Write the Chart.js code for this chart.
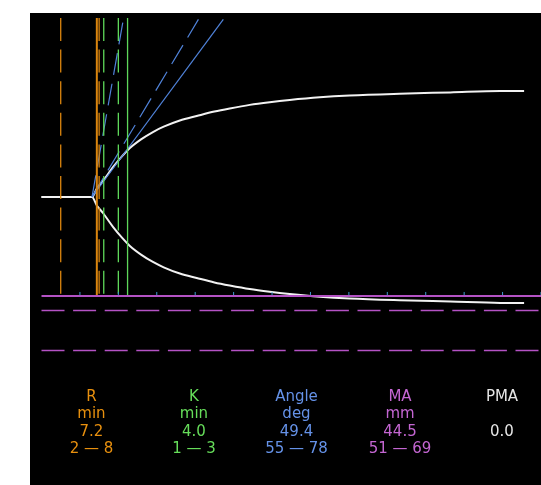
<!DOCTYPE html>
<html>
<head>
<meta charset="utf-8">
<script src="https://cdn.jsdelivr.net/npm/chart.js@4"></script>
<style>
  body { margin: 0; background: #fff; }
  #panel { position: absolute; left: 30px; top: 13px; width: 511px; height: 472px; background: #000; }
  #chartCanvas { position: absolute; left: 0; top: 0; }
  .col { position: absolute; top: 375px; width: 100px; text-align: center;
         font-family: "DejaVu Sans", sans-serif; font-size: 15px; line-height: 17.4px; white-space: pre; }
</style>
</head>
<body>
<div id="panel">
  <canvas id="chartCanvas" width="511" height="472"></canvas>
</div>
<script>
// trace: time (min) and half amplitude (mm)
var timeMin     = [0, 6.57, 7.2, 8.0, 9.3, 10.5, 11.5, 13.0, 14.5, 15.9, 18.0, 20.2, 22.5, 24.5, 27.1, 29.7, 32.3, 36.2, 40.1, 46.6, 53.2, 59.7, 62.8];
var amplitudeMm = [0, 0,    1.9, 3.6, 6.7, 9.2,  11.0, 13.0, 14.6, 15.8, 17.2, 18.2, 19.2, 19.9, 20.7, 21.3, 21.8, 22.4, 22.8, 23.2, 23.5, 23.8, 23.8];

// marker lines
var rValue = 7.2;
var rRangeLines = [2.5, 7.5];
var kEnd = 11.2;
var kRangeLines = [8.1, 10.0];
var angleStart = {x: 6.57, y: 0};
var angleActualEnd = {x: 23.66, y: 39.9};
var angleRangeEnds = [{x: 20.42, y: 39.9}, {x: 10.65, y: 39.9}];
var maHalf = -22.25;
var maRangeHalf = [-25.5, -34.5];
var timeTicks = [5, 10, 15, 20, 25, 30, 35, 40, 45, 50, 55, 60, 65];

// result table
var paramNames  = ['R', 'K', 'Angle', 'MA', 'PMA'];
var paramUnits  = ['min', 'min', 'deg', 'mm', ''];
var paramValues = ['7.2', '4.0', '49.4', '44.5', '0.0'];
var paramRanges = ['2 \u2014 8', '1 \u2014 3', '55 \u2014 78', '51 \u2014 69', ''];
var paramColors = ['#E8900E', '#66DD5A', '#6592E8', '#C466D2', '#E6E6E6'];

var xMax = 65, yMin = -36, yMax = 40.22;
var orange = '#DA850E', green = '#5ED85A', blue = '#5083DA', magenta = '#B452C4';

function line(points, color, width, dash) {
    return {
        data: points,
        borderColor: color,
        borderWidth: width,
        borderDash: dash || [],
        pointRadius: 0,
        fill: false,
        clip: false
    };
}

function vline(x, color, width, dash) {
    return line([{x: x, y: yMax}, {x: x, y: maHalf}], color, width, dash);
}

function hline(y, color, width, dash) {
    return line([{x: 0, y: y}, {x: xMax, y: y}], color, width, dash);
}

var dash = [23, 8.6];
var datasets = [];

// tick marks on the MA line
datasets.push({
    type: 'scatter',
    data: timeTicks.map(t => ({x: t, y: maHalf + 0.55})),
    pointStyle: 'line',
    rotation: 90,
    radius: 1.6,
    borderColor: '#3f9ad0',
    borderWidth: 1,
    clip: false
});

datasets.push(hline(maHalf, magenta, 2));
maRangeHalf.forEach(y => datasets.push(hline(y, magenta, 1.5, dash)));

rRangeLines.forEach(x => datasets.push(vline(x, orange, 1.3, dash)));
kRangeLines.forEach(x => datasets.push(vline(x, green, 1.3, dash)));
datasets.push(vline(rValue, orange, 2));
datasets.push(vline(kEnd, green, 1.3));

angleRangeEnds.forEach(p => datasets.push(line([angleStart, p], blue, 1.2, [22, 9])));
datasets.push(line([angleStart, angleActualEnd], blue, 1.2));

var upper = timeMin.map((t, i) => ({x: t, y: amplitudeMm[i]}));
var lower = timeMin.map((t, i) => ({x: t, y: -amplitudeMm[i]}));
[upper, lower].forEach(pts => {
    var ds = line(pts, '#F2F2F2', 2);
    ds.cubicInterpolationMode = 'monotone';
    datasets.push(ds);
});

var ctx = document.getElementById('chartCanvas').getContext('2d');
var chart = new Chart(ctx, {
    type: 'line',
    data: { datasets: datasets },
    options: {
        responsive: false,
        animation: false,
        events: [],
        layout: { autoPadding: false, padding: { left: 11.5, right: 0, top: 5, bottom: 127.8 } },
        plugins: { legend: { display: false }, tooltip: { enabled: false } },
        scales: {
            x: { type: 'linear', min: 0, max: xMax, display: false },
            y: { type: 'linear', min: yMin, max: yMax, display: false }
        }
    }
});

// parameter table below the trace
var panel = document.getElementById('panel');
var centers = [61.5, 164, 266.5, 370, 472];
paramNames.forEach((name, i) => {
    var div = document.createElement('div');
    div.className = 'col';
    div.style.left = (centers[i] - 50) + 'px';
    div.style.color = paramColors[i];
    div.textContent = [name, paramUnits[i], paramValues[i], paramRanges[i]].join('\n');
    panel.appendChild(div);
});
</script>
</body>
</html>
